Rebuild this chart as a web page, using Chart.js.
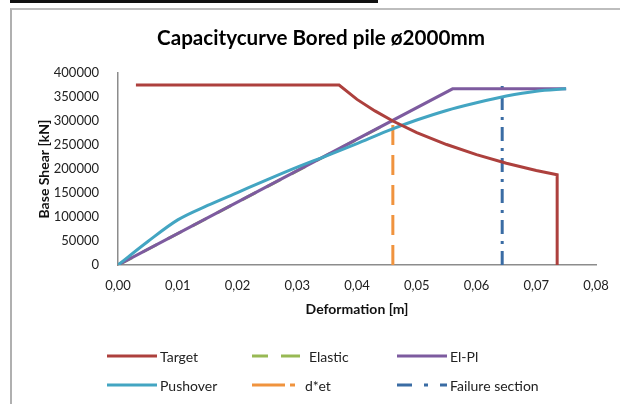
<!DOCTYPE html>
<html>
<head>
<meta charset="utf-8">
<script src="https://cdn.jsdelivr.net/npm/chart.js@4"></script>
<style>
    body { margin: 0; background: #fff; font-family: Lato, "Open Sans", sans-serif; }
    #wrap { position: relative; width: 620px; height: 404px; overflow: hidden; }
    #topbar { position: absolute; left: 10px; top: 0; width: 368px; height: 3px; background: #111; }
    #frame { position: absolute; left: 10px; top: 8px; width: 640px; height: 420px;
             border-top: 2px solid #bdbdbd; border-left: 2px solid #b0b0b0; }
    #chart { position: absolute; left: 0; top: 0; }
    #title { position: absolute; left: 121px; width: 400px; top: 25px; text-align: center;
             font: bold 20.6px Lato, sans-serif; color: #000; white-space: nowrap; }
    .item { position: absolute; display: flex; align-items: center; font-size: 14px; color: #222; height: 16px; }
    .item svg { margin-right: 3px; }
</style>
</head>
<body>
<div id="wrap">
    <div id="topbar"></div>
    <div id="frame"></div>
    <canvas id="chart" width="620" height="404"></canvas>
    <div id="title">Capacitycurve Bored pile ø2000mm</div>
    <div id="legend"></div>
</div>
<script>
// deformation [m] / base shear [kN]
const targetX = [0.003, 0.037, 0.040, 0.043, 0.046, 0.050, 0.055, 0.060, 0.065, 0.070, 0.0735, 0.0735];
const targetY = [375000, 375000, 345000, 321000, 300000, 276000, 251000, 230000, 212000, 197000, 188000, 0];

const elasticX = [0, 0.046];
const elasticY = [0, 301000];

const elplX = [0, 0.056, 0.075];
const elplY = [0, 367000, 367000];

const pushoverX = [0, 0.005, 0.010, 0.015, 0.020, 0.025, 0.030, 0.035, 0.040, 0.045, 0.050, 0.055, 0.060, 0.065, 0.070, 0.075];
const pushoverY = [0, 49000, 94000, 124000, 151000, 178000, 204000, 228000, 253000, 279000, 302000, 322000, 338000, 352000, 362000, 367000];

const detX = [0.046, 0.046];
const detY = [0, 302000];

const failureX = [0.0643, 0.0643];
const failureY = [0, 378000];

const xTicks = [0, 0.01, 0.02, 0.03, 0.04, 0.05, 0.06, 0.07, 0.08];

function pts(xs, ys) {
    return xs.map(function (x, i) { return { x: x, y: ys[i] }; });
}

const series = [
    { label: "Target", data: pts(targetX, targetY), color: "#ad403d", dash: [], keyDash: [], order: 1 },
    { label: "Elastic", data: pts(elasticX, elasticY), color: "#98b954", dash: [16, 12], keyDash: [16, 13, 19, 2], order: 9 },
    { label: "El-Pl", data: pts(elplX, elplY), color: "#7d5b9f", dash: [], keyDash: [], order: 3 },
    { label: "Pushover", data: pts(pushoverX, pushoverY), color: "#43a5c2", dash: [], keyDash: [], order: 2, smooth: true },
    { label: "d*et", data: pts(detX, detY), color: "#f0933e", dash: [20, 10], keyDash: [33, 5, 5, 7], order: 4 },
    { label: "Failure section", data: pts(failureX, failureY), color: "#3a6ca4", dash: [14, 7, 3, 7], keyDash: [15, 12, 4, 12, 7, 0], order: 5 }
];

const tickFont = { family: "Lato", size: 13 };
const boldFont = { family: "Lato", size: 14, weight: "bold" };

new Chart(document.getElementById("chart").getContext("2d"), {
    type: "scatter",
    data: {
        datasets: series.map(function (s) {
            return {
                label: s.label,
                data: s.data,
                showLine: true,
                borderColor: s.color,
                backgroundColor: s.color,
                borderWidth: 3,
                borderDash: s.dash,
                pointRadius: 0,
                cubicInterpolationMode: s.smooth ? "monotone" : "default",
                tension: 0,
                order: s.order
            };
        })
    },
    options: {
        responsive: false,
        devicePixelRatio: 1,
        animation: false,
        layout: { padding: { left: 30, right: 24, top: 73, bottom: 84 } },
        plugins: {
            legend: { display: false },
            tooltip: { enabled: false },
            title: { display: false }
        },
        scales: {
            x: {
                type: "linear",
                min: 0,
                max: 0.08,
                afterBuildTicks: function (scale) {
                    scale.ticks = xTicks.map(function (v) { return { value: v }; });
                },
                afterFit: function (scale) { scale.height = 55; },
                grid: { display: false },
                border: { display: true, color: "#8c8c8c", width: 1.5 },
                ticks: {
                    padding: 5,
                    color: "#222",
                    font: tickFont,
                    maxRotation: 0,
                    callback: function (v) { return v.toFixed(2).replace(".", ","); }
                },
                title: {
                    display: true,
                    text: "Deformation [m]",
                    color: "#111",
                    font: boldFont,
                    padding: { top: 0, bottom: 2 }
                }
            },
            y: {
                min: 0,
                max: 400000,
                afterFit: function (scale) { scale.width = 88; },
                grid: { display: false },
                border: { display: true, color: "#8c8c8c", width: 1.5 },
                ticks: {
                    stepSize: 50000,
                    padding: 11,
                    color: "#222",
                    font: tickFont,
                    callback: function (v) { return String(v); }
                },
                title: {
                    display: true,
                    text: "Base Shear [kN]",
                    color: "#111",
                    font: boldFont,
                    padding: { top: 6, bottom: 0 }
                }
            }
        }
    }
});

// legend: 3 columns x 2 rows, like the original
const legendPos = [
    [107, 348], [252, 348], [397, 348],
    [107, 377], [252, 377], [397, 377]
];
const legend = document.getElementById("legend");
series.forEach(function (s, i) {
    const item = document.createElement("div");
    item.className = "item";
    item.style.left = legendPos[i][0] + "px";
    item.style.top = legendPos[i][1] + "px";
    const svgNS = "http://www.w3.org/2000/svg";
    const svg = document.createElementNS(svgNS, "svg");
    svg.setAttribute("width", "50");
    svg.setAttribute("height", "8");
    const line = document.createElementNS(svgNS, "line");
    line.setAttribute("x1", "0");
    line.setAttribute("x2", "50");
    line.setAttribute("y1", "4");
    line.setAttribute("y2", "4");
    line.setAttribute("stroke", s.color);
    line.setAttribute("stroke-width", "3");
    if (s.keyDash.length) line.setAttribute("stroke-dasharray", s.keyDash.join(" "));
    svg.appendChild(line);
    item.appendChild(svg);
    const label = document.createElement("span");
    label.textContent = s.label;
    if (s.label === "Elastic") label.style.marginLeft = "4px";
    item.appendChild(label);
    legend.appendChild(item);
});
</script>
</body>
</html>
